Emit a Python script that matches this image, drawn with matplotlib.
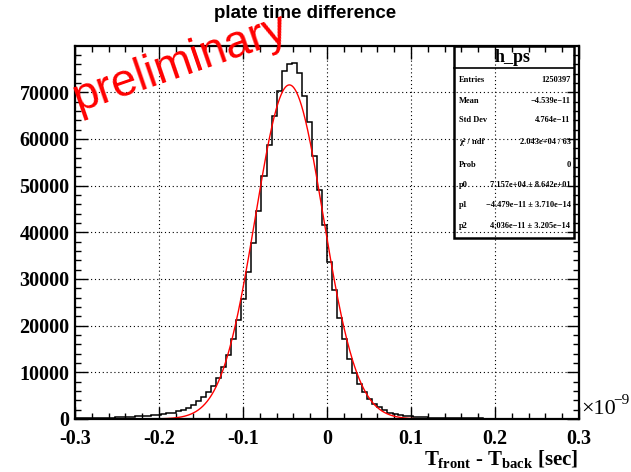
"""
ROOT-style histogram of plate time difference with Gaussian fit.
"""
import matplotlib
matplotlib.use("Agg")
import matplotlib.pyplot as plt
import numpy as np
from matplotlib.ticker import MultipleLocator

# ---------------------------------------------------------------------------
# Data (bin contents, 100 bins from -0.3 to 0.3 [1e-9 s])
# ---------------------------------------------------------------------------
X_MIN, X_MAX, N_BINS = -0.3, 0.3, 100
counts = [
    150, 170, 190, 210, 240, 260, 290, 320, 360, 400,
    440, 490, 550, 620, 700, 790, 900, 1030, 1190, 1380,
    1620, 1950, 2420, 3000, 3780, 4710, 5790, 7070, 8870, 11230,
    13650, 17080, 21150, 25800, 31590, 37800, 44570, 52070, 58800, 64800,
    70290, 74500, 76100, 76200, 74020, 69220, 63600, 56360, 49080, 41570,
    33650, 27630, 21560, 17140, 12890, 9860, 7560, 5790, 4350, 3280,
    2490, 1840, 1290, 990, 770, 640, 540, 450, 390, 340,
    300, 270, 240, 215, 195, 175, 160, 145, 132, 120,
    110, 100, 92, 85, 78, 72, 66, 61, 56, 52,
    48, 45, 42, 39, 36, 34, 32, 30, 28, 26,
]

# fit parameters (gaus) from the stats box, x in units of 1e-9 s
fit_p0 = 7.157e4
fit_p1 = -4.479e-2
fit_p2 = 4.036e-2
fit_range = (-0.2, 0.2)

stats_rows = [
    ("Entries", "1250397"),
    ("Mean", "\u22124.539e\u221211"),
    ("Std Dev", "4.764e\u221211"),
    ("\u03c7\u00b2 / ndf", "2.043e+04 / 63"),
    ("Prob", "0"),
    ("p0", "7.157e+04 \u00b1 8.642e+01"),
    ("p1", "\u22124.479e\u221211 \u00b1 3.710e\u221214"),
    ("p2", "4.036e\u221211 \u00b1 3.205e\u221214"),
]

# ---------------------------------------------------------------------------
# Plot
# ---------------------------------------------------------------------------
plt.rcParams["mathtext.fontset"] = "custom"
plt.rcParams["mathtext.rm"] = "Liberation Serif:bold"
plt.rcParams["mathtext.it"] = "Liberation Serif:bold"
plt.rcParams["mathtext.bf"] = "Liberation Serif:bold"

W, H = 631, 472
fig = plt.figure(figsize=(W / 100, H / 100), dpi=100)
ax = fig.add_axes([75 / W, 1 - 419 / H, 504 / W, 373 / H])

edges = np.linspace(X_MIN, X_MAX, N_BINS + 1)
ax.stairs(counts, edges, color="black", linewidth=1.1)

xf = np.linspace(fit_range[0], fit_range[1], 600)
ax.plot(xf, fit_p0 * np.exp(-0.5 * ((xf - fit_p1) / fit_p2) ** 2),
        color="red", linewidth=1.0)

ax.set_xlim(X_MIN, X_MAX)
ax.set_ylim(0, 79900)

ax.xaxis.set_major_locator(MultipleLocator(0.1))
ax.xaxis.set_minor_locator(MultipleLocator(0.02))
ax.yaxis.set_major_locator(MultipleLocator(10000))
ax.yaxis.set_minor_locator(MultipleLocator(2000))
ax.tick_params(which="both", direction="in", top=True, right=True, width=1.0)
ax.tick_params(which="major", length=9)
ax.tick_params(which="minor", length=4.5)
ax.tick_params(axis="x", pad=7)
ax.tick_params(axis="y", pad=4)
ax.set_xticklabels([f"{v:.1f}" if abs(v) > 1e-9 else "0"
                    for v in ax.get_xticks()])
ax.set_yticklabels([f"{int(v)}" for v in ax.get_yticks()])
for lab in ax.get_xticklabels() + ax.get_yticklabels():
    lab.set_fontfamily("Liberation Serif")
    lab.set_fontweight("bold")
    lab.set_fontsize(14.5)

ax.grid(True, which="major", color="black", linestyle=(0, (1, 2.5)),
        linewidth=0.8)
for s in ax.spines.values():
    s.set_linewidth(1.6)

# labels
fig.text(305 / W, 1 - 14 / H, "plate time difference", ha="center",
         va="center", fontfamily="Liberation Sans", fontweight="bold",
         fontsize=13.5)
fig.text(578 / W, 1 - 459 / H, r"$T_{front}$ - $T_{back}$ [sec]",
         ha="right", va="center", fontfamily="Liberation Serif",
         fontweight="bold", fontsize=15)
fig.text(581 / W, 1 - 410 / H, "\u00d710", ha="left", va="center",
         fontfamily="Liberation Serif", fontsize=16)
fig.text(613 / W, 1 - 401 / H, "\u22129", ha="left", va="center",
         fontfamily="Liberation Serif", fontsize=11)

fig.text(78 / W, 1 - 112 / H, "preliminary", rotation=19, ha="left",
         va="baseline", rotation_mode="anchor", color="red",
         fontfamily="Liberation Sans", fontsize=33)

# stats box
bx0, bx1, by0, by1 = 453.5 / W, 573.5 / W, 1 - 237.5 / H, 1 - 46 / H
fig.patches.append(plt.Rectangle((bx0, by0), bx1 - bx0, by1 - by0,
                                 transform=fig.transFigure, fill=False,
                                 edgecolor="black", linewidth=1.8))
fig.add_artist(plt.Line2D([bx0, bx1], [1 - 67.7 / H, 1 - 67.7 / H],
                          transform=fig.transFigure, color="black",
                          linewidth=1.2))
fig.text(512.5 / W, 1 - 57 / H, "h_ps", ha="center", va="center",
         fontfamily="Liberation Serif", fontweight="bold", fontsize=13)
row_y = [80, 101, 120, 142.5, 165, 185, 205, 226.5]
for (name, val), yy in zip(stats_rows, row_y):
    fig.text(459 / W, 1 - yy / H, name, ha="left", va="center",
             fontfamily="Liberation Serif", fontweight="bold", fontsize=6)
    fig.text(570.5 / W, 1 - yy / H, val, ha="right", va="center",
             fontfamily="Liberation Serif", fontweight="bold", fontsize=6)

fig.savefig("out.png", dpi=100)
